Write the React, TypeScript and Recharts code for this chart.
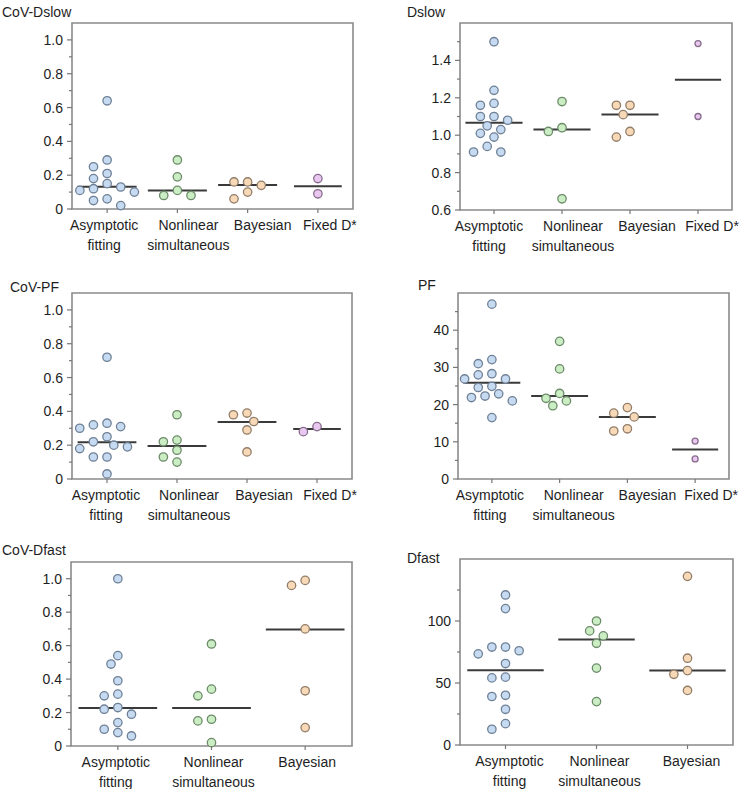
import React from 'react';
import { ScatterChart, Scatter, XAxis, YAxis, ReferenceLine, ReferenceArea } from 'recharts';

// category labels, split over two lines like the original figure
const methodLines = [['Asymptotic', 'fitting'], ['Nonlinear', 'simultaneous'], ['Bayesian'], ['Fixed D*']];

// y tick values (all ticks) and the labelled ones
const covTicks = [0, 0.1, 0.2, 0.3, 0.4, 0.5, 0.6, 0.7, 0.8, 0.9, 1.0];
const covMajor = [0, 0.2, 0.4, 0.6, 0.8, 1.0];
const dslowTicks = [0.6, 0.7, 0.8, 0.9, 1.0, 1.1, 1.2, 1.3, 1.4, 1.5];
const dslowMajor = [0.6, 0.8, 1.0, 1.2, 1.4];
const pfTicks = [0, 5, 10, 15, 20, 25, 30, 35, 40, 45];
const pfMajor = [0, 10, 20, 30, 40];
const dfastTicks = [0, 25, 50, 75, 100, 125];
const dfastMajor = [0, 50, 100];

// CoV-Dslow
const covDslowAsym = [0.64, 0.29, 0.25, 0.21, 0.18, 0.15, 0.13, 0.12, 0.11, 0.10, 0.06, 0.05, 0.02];
const covDslowNonlin = [0.29, 0.19, 0.11, 0.08, 0.08];
const covDslowBayes = [0.16, 0.16, 0.14, 0.10, 0.06];
const covDslowFixed = [0.18, 0.09];
const covDslowMedian = [0.132, 0.11, 0.142, 0.134];

// Dslow
const dslowAsym = [1.50, 1.24, 1.17, 1.16, 1.10, 1.10, 1.08, 1.05, 1.03, 1.01, 0.99, 0.94, 0.91, 0.91];
const dslowNonlin = [1.18, 1.04, 1.02, 0.66];
const dslowBayes = [1.16, 1.16, 1.11, 1.02, 0.99];
const dslowFixed = [1.49, 1.10];
const dslowMedian = [1.066, 1.03, 1.111, 1.296];

// CoV-PF
const covPfAsym = [0.72, 0.33, 0.32, 0.31, 0.30, 0.25, 0.22, 0.20, 0.19, 0.18, 0.13, 0.13, 0.03];
const covPfNonlin = [0.38, 0.23, 0.22, 0.17, 0.13, 0.10];
const covPfBayes = [0.39, 0.38, 0.34, 0.29, 0.16];
const covPfFixed = [0.31, 0.28];
const covPfMedian = [0.218, 0.195, 0.337, 0.295];

// PF
const pfAsym = [47.0, 32.1, 31.0, 28.3, 28.0, 26.9, 26.9, 24.9, 24.6, 22.9, 22.3, 21.9, 21.0, 16.5];
const pfNonlin = [37.0, 29.6, 23.0, 21.7, 21.0, 19.7];
const pfBayes = [19.2, 17.7, 16.7, 13.5, 12.9];
const pfFixed = [10.2, 5.4];
const pfMedian = [25.9, 22.3, 16.7, 7.9];

// CoV-Dfast
const covDfastAsym = [1.00, 0.54, 0.49, 0.39, 0.31, 0.30, 0.23, 0.22, 0.19, 0.14, 0.10, 0.08, 0.06];
const covDfastNonlin = [0.61, 0.34, 0.30, 0.16, 0.15, 0.02];
const covDfastBayes = [0.99, 0.96, 0.70, 0.33, 0.11];
const covDfastMedian = [0.227, 0.227, 0.697];

// Dfast
const dfastAsym = [121, 110, 79, 79, 76, 73.5, 65.7, 54.7, 54.1, 40.1, 39.1, 28.8, 17.2, 12.7];
const dfastNonlin = [100, 92, 88, 82, 62, 35];
const dfastBayes = [136, 70, 60, 57, 44];
const dfastMedian = [60.3, 85.1, 60.1];

const FONT = '"Liberation Sans", Arial, Helvetica, sans-serif';
const TEXT = '#1e1e1e';
const AXIS = '#8a8a8a';

const groupColors = [
  { fill: '#c6daf1', stroke: '#6f8196' },
  { fill: '#cbedc4', stroke: '#6c8b69' },
  { fill: '#f8d9b7', stroke: '#927d68' },
  { fill: '#e8c8ef', stroke: '#886d8e' },
];

const panels = [
  {
    title: 'CoV-Dslow', titleX: 2, titleY: 4,
    frame: { x: 72, y: 23, w: 281, h: 186 },
    yDomain: [0, 1.1], ticks: covTicks, major: covMajor, decimals: 1,
    groups: [covDslowAsym, covDslowNonlin, covDslowBayes, covDslowFixed],
    medians: covDslowMedian, labelShift: [-3, 11, 15, 12], fixedR: 4.2,
  },
  {
    title: 'Dslow', titleX: 407, titleY: 4,
    frame: { x: 460, y: 23, w: 272, h: 187 },
    yDomain: [0.6, 1.6], ticks: dslowTicks, major: dslowMajor, decimals: 1,
    groups: [dslowAsym, dslowNonlin, dslowBayes, dslowFixed],
    medians: dslowMedian, labelShift: [-5, 11, 17, 14], fixedR: 3,
  },
  {
    title: 'CoV-PF', titleX: 10, titleY: 279,
    frame: { x: 72, y: 293, w: 280, h: 186 },
    yDomain: [0, 1.1], ticks: covTicks, major: covMajor, decimals: 1,
    groups: [covPfAsym, covPfNonlin, covPfBayes, covPfFixed],
    medians: covPfMedian, labelShift: [-1, 12, 17, 13], fixedR: 4.2,
  },
  {
    title: 'PF', titleX: 418, titleY: 277,
    frame: { x: 458, y: 293, w: 271, h: 186 },
    yDomain: [0, 50], ticks: pfTicks, major: pfMajor, decimals: 0,
    groups: [pfAsym, pfNonlin, pfBayes, pfFixed],
    medians: pfMedian, labelShift: [-2, 14, 20, 16], fixedR: 3,
  },
  {
    title: 'CoV-Dfast', titleX: 2, titleY: 542,
    frame: { x: 71, y: 562, w: 281, h: 184 },
    yDomain: [0, 1.1], ticks: covTicks, major: covMajor, decimals: 1,
    groups: [covDfastAsym, covDfastNonlin, covDfastBayes],
    medians: covDfastMedian, labelShift: [-2, 2, 2], fixedR: 4.2,
  },
  {
    title: 'Dfast', titleX: 407, titleY: 550,
    frame: { x: 460, y: 559, w: 273, h: 186 },
    yDomain: [0, 150], ticks: dfastTicks, major: dfastMajor, decimals: 0,
    groups: [dfastAsym, dfastNonlin, dfastBayes],
    medians: dfastMedian, labelShift: [4, 3, 4], fixedR: 4.2,
  },
];

// simple greedy beeswarm: nudge points sideways until they no longer overlap
function swarm(values: number[], pxPerY: number, r: number): number[] {
  const step = r * 1.45;
  const minD = r * 2 + 0.6;
  const placed: { dx: number; y: number }[] = [];
  return values.map((v) => {
    const y = v * pxPerY;
    for (let k = 0; k < 30; k++) {
      const dx = k === 0 ? 0 : (k % 2 ? -1 : 1) * Math.ceil(k / 2) * step;
      const ok = placed.every((p) => (p.dx - dx) ** 2 + (p.y - y) ** 2 >= minD * minD);
      if (ok) {
        placed.push({ dx, y });
        return dx;
      }
    }
    return 0;
  });
}

const Panel = ({ p }: { p: any }) => {
  const n = p.groups.length;
  const pxCat = p.frame.w / n;
  const pxY = p.frame.h / (p.yDomain[1] - p.yDomain[0]);
  const cats = Array.from({ length: n }, (_, i) => i + 1);

  const series = p.groups.map((vals: number[], gi: number) => {
    const r = gi === 3 ? p.fixedR : 4.2;
    const offs = swarm(vals, pxY, r + 0.5);
    return { r, data: vals.map((v, i) => ({ x: gi + 1 + offs[i] / pxCat, y: v })) };
  });

  const fmt = (v: number) => (v === 0 ? '0' : v.toFixed(p.decimals));

  const renderYTick = (props: any) => {
    const { x, y, payload } = props;
    const v = payload.value;
    const isMajor = p.major.some((m: number) => Math.abs(m - v) < 1e-9);
    return (
      <g>
        <line x1={x - (isMajor ? 5 : 3)} x2={x} y1={y} y2={y} stroke="#777" strokeWidth={1.2} />
        {isMajor && (
          <text x={x - 9} y={y} dy={5} textAnchor="end" fontSize={14} fill={TEXT} fontFamily={FONT}>
            {fmt(v)}
          </text>
        )}
      </g>
    );
  };

  const renderXTick = (props: any) => {
    const { x, y, payload } = props;
    const idx = Math.round(payload.value) - 1;
    const lines = methodLines[idx];
    const tx = x + p.labelShift[idx];
    return (
      <g>
        <line x1={x} x2={x} y1={y} y2={y + 4} stroke="#777" strokeWidth={1.2} />
        {lines.map((t: string, li: number) => (
          <text key={li} x={tx} y={y + 21 + li * 20} textAnchor="middle" fontSize={14} fill={TEXT} fontFamily={FONT}>
            {t}
          </text>
        ))}
      </g>
    );
  };

  const rightMargin = Math.max(10, 742 - (p.frame.x + p.frame.w));

  return (
    <>
      <div
        style={{
          position: 'absolute', left: p.titleX, top: p.titleY, fontSize: 14, lineHeight: '16px',
          color: TEXT, fontFamily: FONT, whiteSpace: 'nowrap',
        }}
      >
        {p.title}
      </div>
      <div style={{ position: 'absolute', left: p.frame.x - 72, top: p.frame.y - 5 }}>
        <ScatterChart
          width={p.frame.w + 72 + rightMargin}
          height={p.frame.h + 55}
          margin={{ top: 5, right: rightMargin, left: 12, bottom: 5 }}
        >
          <XAxis
            type="number" dataKey="x" domain={[0.5, n + 0.5]} ticks={cats} interval={0}
            axisLine={false} tickLine={false} tickSize={0} tickMargin={0} height={45}
            tick={renderXTick}
          />
          <YAxis
            type="number" dataKey="y" domain={p.yDomain} ticks={p.ticks} interval={0}
            axisLine={false} tickLine={false} tickSize={0} tickMargin={0} width={60}
            tick={renderYTick}
          />
          <ReferenceArea
            x1={0.5} x2={n + 0.5} y1={p.yDomain[0]} y2={p.yDomain[1]}
            fill="none" fillOpacity={0} stroke={AXIS} strokeWidth={1.6}
          />
          {p.medians.map((m: number, gi: number) => {
            const hw = gi === 3 ? 0.34 : 0.42;
            return (
              <ReferenceLine
                key={'m' + gi}
                segment={[{ x: gi + 1 - hw, y: m }, { x: gi + 1 + hw, y: m }]}
                stroke="#3a3a3a" strokeWidth={2}
              />
            );
          })}
          {series.map((s: any, gi: number) => (
            <Scatter
              key={gi}
              data={s.data}
              isAnimationActive={false}
              shape={(sp: any) => (
                <circle
                  cx={sp.cx} cy={sp.cy} r={s.r}
                  fill={groupColors[gi].fill} stroke={groupColors[gi].stroke} strokeWidth={1.3}
                />
              )}
            />
          ))}
        </ScatterChart>
      </div>
    </>
  );
}

export default function App() {
  return (
    <div
      style={{
        position: 'absolute', left: 0, top: 0, width: 742, height: 789,
        overflow: 'hidden', background: '#fff', fontFamily: FONT,
      }}
    >
      {panels.map((p, i) => (
        <Panel key={i} p={p} />
      ))}
    </div>
  );
}
